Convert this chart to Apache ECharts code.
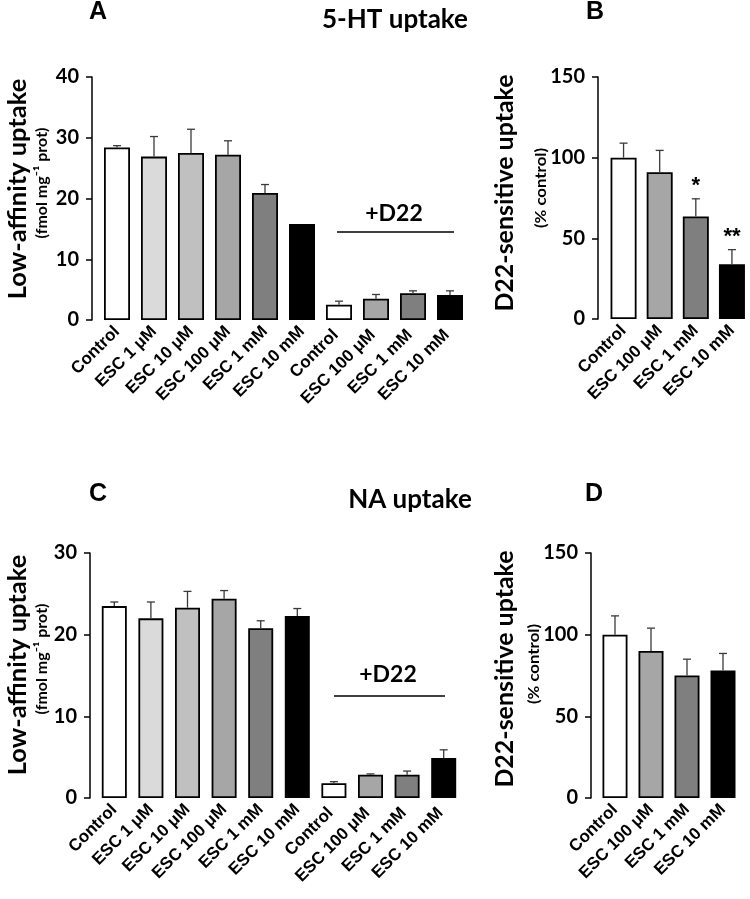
<!DOCTYPE html>
<html>
<head>
<meta charset="utf-8">
<script src="https://cdn.jsdelivr.net/npm/echarts@6/dist/echarts.min.js"></script>
<style>html,body{margin:0;padding:0;background:#fff}#c{width:750px;height:899px}</style>
</head>
<body>
<div id="c"></div>
<script>
// ---- data ----
var catsLeft = ['Control', 'ESC 1 \u03bcM', 'ESC 10 \u03bcM', 'ESC 100 \u03bcM', 'ESC 1 mM', 'ESC 10 mM',
                'Control ', 'ESC 100 \u03bcM ', 'ESC 1 mM ', 'ESC 10 mM '];
var catsRight = ['Control', 'ESC 100 \u03bcM', 'ESC 1 mM', 'ESC 10 mM'];

var htLowValues = [28.4, 26.9, 27.5, 27.2, 20.9, 15.8, 2.5, 3.5, 4.4, 4.1];
var htLowErrors = [0.3, 3.3, 3.9, 2.3, 1.4, 0, 0.6, 0.7, 0.4, 0.7];
var htD22Values = [100, 91, 63.5, 34];
var htD22Errors = [9, 13.5, 11, 9];
var htD22Sig = ['', '', '*', '**'];

var naLowValues = [23.5, 22.0, 23.3, 24.4, 20.8, 22.3, 1.8, 2.85, 2.85, 4.9];
var naLowErrors = [0.5, 2.0, 2.0, 1.0, 0.9, 0.9, 0.2, 0.1, 0.45, 1.0];
var naD22Values = [100, 90, 75, 78];
var naD22Errors = [11.5, 14, 10, 10.5];
var naD22Sig = ['', '', '', ''];

var yTicksLow1 = [0, 40, 10];   // min, max, interval
var yTicksLow2 = [0, 30, 10];
var yTicksPct = [0, 150, 50];

var titleLow = 'Low-affinity uptake', subLow = '(fmol mg\u207b\u00b9 prot)';
var titlePct = 'D22-sensitive uptake', subPct = '(% control)';

// ---- styles ----
var colorsLeft = ['#ffffff', '#dadada', '#c0c0c0', '#a6a6a6', '#7f7f7f', '#000000', '#ffffff', '#a6a6a6', '#7f7f7f', '#000000'];
var colorsRight = ['#ffffff', '#a6a6a6', '#7f7f7f', '#000000'];
var FONT = 'Lato, "Open Sans", sans-serif';
var LBL_FONT = '"Liberation Sans", Arial, sans-serif';

function barData(vals, colors) {
  return vals.map(function (v, i) {
    return { value: v, itemStyle: { color: colors[i] } };
  });
}
function errData(vals, errs) {
  return vals.map(function (v, i) { return [i, v, errs[i]]; });
}
function errRender(sig) {
  return function (params, api) {
    var i = api.value(0), v = api.value(1), e = api.value(2);
    var base = api.coord([i, v]);
    var top = api.coord([i, v + e]);
    var ch = [];
    if (e > 0) {
      ch.push({ type: 'line', shape: { x1: base[0], y1: base[1], x2: top[0], y2: top[1] }, style: { stroke: '#3a3a3a', lineWidth: 1.3 } });
      ch.push({ type: 'line', shape: { x1: top[0] - 4, y1: top[1], x2: top[0] + 4, y2: top[1] }, style: { stroke: '#3a3a3a', lineWidth: 1.3 } });
    }
    var s = sig ? sig[params.dataIndex] : '';
    if (s) {
      ch.push({ type: 'text', x: top[0], y: top[1] - 2, style: { text: s, fill: '#000', font: 'bold 22px ' + LBL_FONT, textAlign: 'center', textVerticalAlign: 'bottom' } });
    }
    return { type: 'group', children: ch };
  };
}
function yAxisDef(grid, t, offset) {
  return {
    gridIndex: grid, type: 'value', min: t[0], max: t[1], interval: t[2], offset: offset,
    axisLine: { show: true, lineStyle: { color: '#000', width: 1.5 } },
    axisTick: { show: true, length: 6, lineStyle: { color: '#000', width: 1.5 } },
    splitLine: { show: false },
    axisLabel: { color: '#000', fontFamily: FONT, fontWeight: 'bold', fontSize: 20, margin: 13 }
  };
}
function xAxisDef(grid, cats) {
  return {
    gridIndex: grid, type: 'category', data: cats,
    axisLine: { show: false }, axisTick: { show: false },
    axisLabel: { interval: 0, rotate: 45, margin: 9, color: '#000', fontFamily: LBL_FONT, fontWeight: 'bold', fontSize: 17 }
  };
}
function barSeries(idx, vals, colors, w) {
  return {
    type: 'bar', xAxisIndex: idx, yAxisIndex: idx, barWidth: w,
    data: barData(vals, colors),
    itemStyle: { borderColor: '#000', borderWidth: 1.8 },
    silent: true, animation: false
  };
}
function errSeries(idx, vals, errs, sig) {
  return {
    type: 'custom', xAxisIndex: idx, yAxisIndex: idx,
    renderItem: errRender(sig), data: errData(vals, errs), animation: false, silent: true, z: 5
  };
}
function vText(txt, x, y, size, sx) {
  return { type: 'text', x: x, y: y, rotation: Math.PI / 2, scaleX: sx,
    style: { text: txt, font: 'bold ' + size + 'px ' + FONT, fill: '#000', textAlign: 'center', textVerticalAlign: 'middle' } };
}

var chart = echarts.init(document.getElementById('c'), null, { renderer: 'canvas' });
chart.setOption({
  backgroundColor: '#fff',
  animation: false,
  grid: [
    { left: 98.5, top: 77, width: 370, height: 243 },
    { left: 605.5, top: 77, width: 148, height: 242 },
    { left: 96, top: 553, width: 366, height: 245 },
    { left: 597, top: 553, width: 144, height: 245 }
  ],
  xAxis: [xAxisDef(0, catsLeft), xAxisDef(1, catsRight), xAxisDef(2, catsLeft), xAxisDef(3, catsRight)],
  yAxis: [
    yAxisDef(0, yTicksLow1, 6.5),
    yAxisDef(1, yTicksPct, 7.5),
    yAxisDef(2, yTicksLow2, 6),
    yAxisDef(3, yTicksPct, 6)
  ],
  series: [
    barSeries(0, htLowValues, colorsLeft, 26), errSeries(0, htLowValues, htLowErrors, null),
    barSeries(1, htD22Values, colorsRight, 26), errSeries(1, htD22Values, htD22Errors, htD22Sig),
    barSeries(2, naLowValues, colorsLeft, 25), errSeries(2, naLowValues, naLowErrors, null),
    barSeries(3, naD22Values, colorsRight, 25), errSeries(3, naD22Values, naD22Errors, naD22Sig)
  ],
  graphic: [
    vText(titleLow, 18, 189, 24, 1.06),
    vText(subLow, 42, 183, 16, 1.0),
    vText(titlePct, 505, 193, 24, 1.04),
    vText(subPct, 541, 188, 16, 1.05),
    vText(titleLow, 18, 665, 24, 1.06),
    vText(subLow, 42, 659, 16, 1.0),
    vText(titlePct, 505, 669, 24, 1.04),
    vText(subPct, 534, 664, 16, 1.05),
    { type: 'text', left: 89, top: 0, style: { text: 'A', font: 'bold 25px ' + LBL_FONT, fill: '#000' } },
    { type: 'text', left: 586, top: 0, style: { text: 'B', font: 'bold 25px ' + LBL_FONT, fill: '#000' } },
    { type: 'text', left: 89, top: 482, style: { text: 'C', font: 'bold 25px ' + LBL_FONT, fill: '#000' } },
    { type: 'text', left: 585, top: 482, style: { text: 'D', font: 'bold 25px ' + LBL_FONT, fill: '#000' } },
    { type: 'text', x: 395, y: 20, style: { text: '5-HT uptake', font: 'bold 26px ' + FONT, fill: '#000', textAlign: 'center', textVerticalAlign: 'middle' } },
    { type: 'text', x: 410, y: 500, style: { text: 'NA uptake', font: 'bold 26px ' + FONT, fill: '#000', textAlign: 'center', textVerticalAlign: 'middle' } },
    { type: 'text', x: 394, y: 214, style: { text: '+D22', font: 'bold 23px ' + FONT, fill: '#000', textAlign: 'center', textVerticalAlign: 'middle' } },
    { type: 'line', shape: { x1: 337, y1: 232, x2: 454, y2: 232 }, style: { stroke: '#000', lineWidth: 1.3 } },
    { type: 'text', x: 388, y: 675, style: { text: '+D22', font: 'bold 23px ' + FONT, fill: '#000', textAlign: 'center', textVerticalAlign: 'middle' } },
    { type: 'line', shape: { x1: 334, y1: 696, x2: 445, y2: 696 }, style: { stroke: '#000', lineWidth: 1.3 } }
  ]
});
</script>
</body>
</html>
